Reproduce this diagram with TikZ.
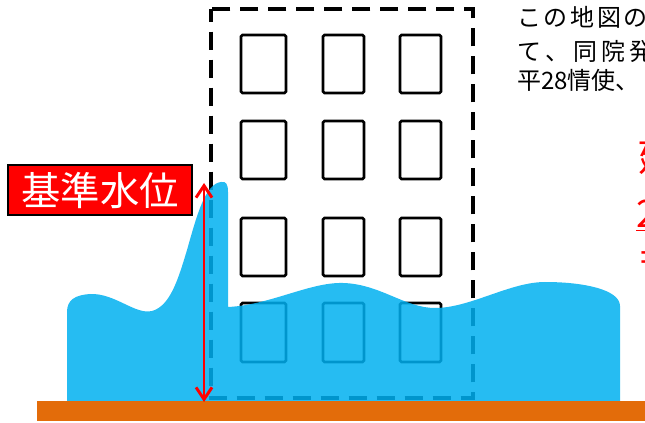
\documentclass[tikz,border=0pt]{standalone}
\usepackage{fontspec}
\newfontfamily\jp{Noto Sans CJK JP}
\usetikzlibrary{arrows.meta}
\definecolor{water}{HTML}{00B0F0}
\definecolor{ground}{HTML}{E36C0A}
\definecolor{alert}{HTML}{FF0000}
\begin{document}
\begin{tikzpicture}[x=0.75pt,y=-0.75pt,
  window/.style={draw=black, line width=2pt, rounded corners=1.2pt},
  wall/.style={draw=black, line width=2.5pt, dash pattern=on 13.5pt off 7.5pt, dash phase=4pt},
  note/.style={inner sep=0pt, anchor=base west, font=\jp\fontsize{18pt}{20pt}\selectfont},
  redtext/.style={inner sep=0pt, text=alert, font=\jp\fontsize{28.5pt}{30pt}\selectfont},
  level/.style={alert, line width=2.2pt, {Straight Barb[length=9pt,width=12pt]}-{Straight Barb[length=9pt,width=12pt]}}]
\useasboundingbox (0,0) rectangle (645,423);
\clip (0,0) rectangle (645,423);

% building outline
\draw[wall] (211,9) rectangle (473,398);
% windows, four storeys of three
\foreach \ya/\yb in {35/93, 121/179, 218/276, 303/362}{
  \foreach \xa/\xb in {241/286, 323/364, 400/441}{
    \draw[window] (\xa,\ya) rectangle (\xb,\yb);
  }
}

% flood water
\fill[water, fill opacity=0.85]
  (67,401) -- (67,312)
  .. controls (67,300) and (75,295) .. (90,294)
  .. controls (115,293) and (135,315) .. (152,311)
  .. controls (170,306) and (178,280) .. (187,250)
  .. controls (197,215) and (205,184) .. (221,182)
  .. controls (226,181) and (228,184) .. (228,192)
  -- (228,307)
  .. controls (270,305) and (310,282) .. (343,283)
  .. controls (380,284) and (405,308) .. (435,308)
  .. controls (470,308) and (510,282) .. (545,282)
  .. controls (585,282) and (620,290) .. (620,306)
  -- (620,401) -- cycle;

% ground
\fill[ground] (37,401) rectangle (645,421);

% reference level arrow
\coordinate (lvtop) at (204,183);
\coordinate (lvbot) at (204,402);
\draw[level] (lvbot) -- (lvtop);

% label box and its text
\node[draw=black, line width=1.1pt, fill=alert, minimum width=138pt,
      minimum height=37.5pt] (label) at (100,190) {};
\node[inner sep=0pt, anchor=base, text=white,
      font=\jp\fontsize{29.5pt}{31pt}\selectfont] (labeltext) at (100,206) {基準水位};

% explanatory note, top right
\node[note] (note1) at (517,26.5) {こ\kern2ptの\kern2pt地\kern2pt図\kern2ptの};
\node[note] (note2) at (517,61) {て\kern3pt、\kern3pt同\kern3pt院\kern3pt発};
\node[note] (note3) at (517,89.5) {平28情使、};

% red remarks at the right edge
\node[redtext, anchor=base west] (rem1) at (638,172) {建};
\node[redtext, anchor=base west] (rem2) at (636,228) {\underline{2}};
\node[redtext, anchor=base west] (rem3) at (640,272) {=};
\node[redtext, anchor=west] (rem4) at (642,320) {(};
\end{tikzpicture}
\end{document}
